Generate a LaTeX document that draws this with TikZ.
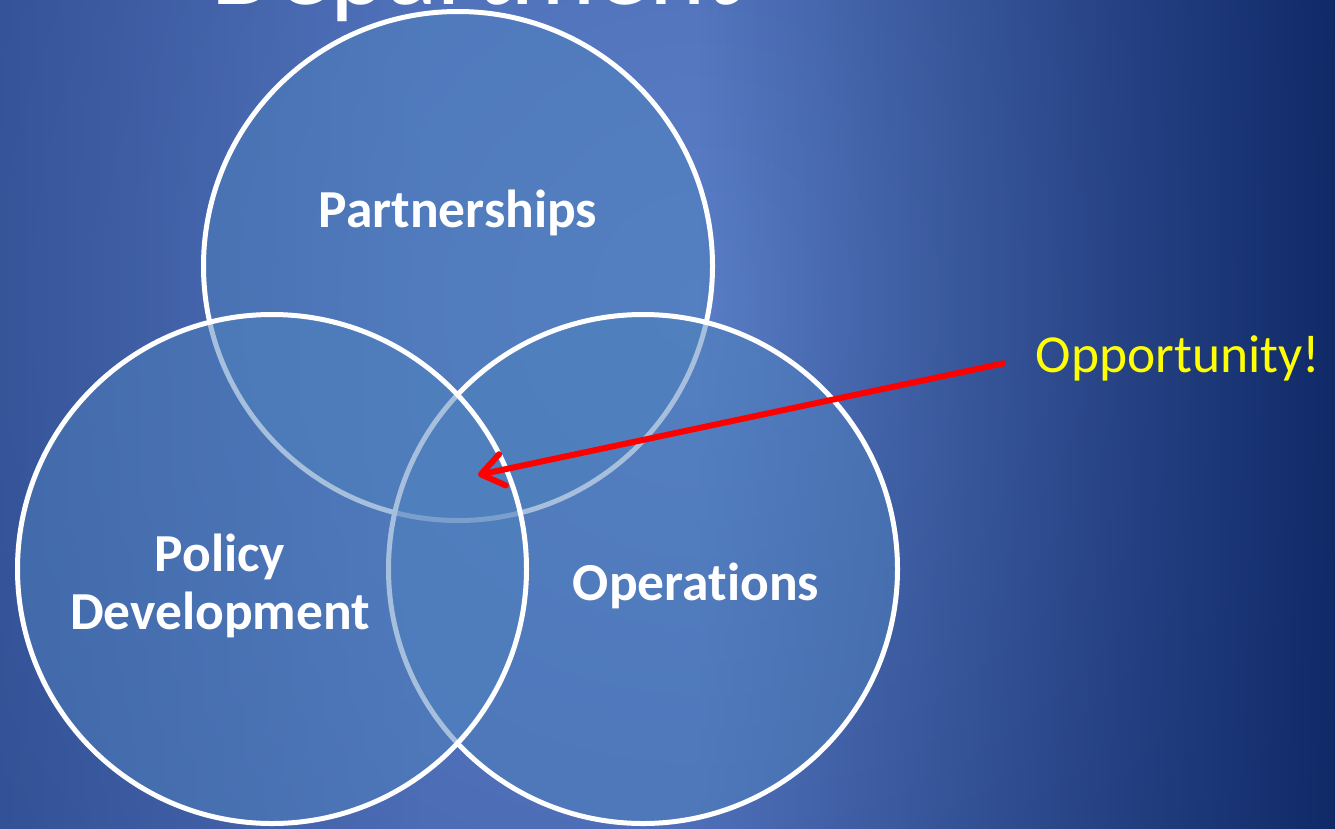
\documentclass[tikz,border=0pt]{standalone}
\usepackage{fontspec}
\setmainfont{Carlito}[Ligatures={NoCommon}]
\usetikzlibrary{arrows.meta,fadings}
\definecolor{bgA}{HTML}{5A7EC6}
\definecolor{bgB}{HTML}{4F70B9}
\definecolor{bgC}{HTML}{4262AA}
\definecolor{bgD}{HTML}{35549D}
\definecolor{bgE}{HTML}{294890}
\definecolor{bgF}{HTML}{1F3D84}
\definecolor{bgDark}{HTML}{0A2360}
\definecolor{accent}{HTML}{4F81BD}
\definecolor{oppyellow}{HTML}{FFFF00}
\definecolor{arrowred}{HTML}{FF0000}
\tikzfading[name=rightdark, left color=transparent!100, right color=transparent!0]
\tikzfading[name=leftdark, left color=transparent!0, right color=transparent!100]
\pgfdeclareradialshading{bgrad}{\pgfpoint{0bp}{0bp}}{color(0bp)=(bgA); color(12bp)=(bgB); color(24bp)=(bgC); color(34bp)=(bgD); color(42bp)=(bgE); color(50bp)=(bgF)}
\tikzset{
  venn/.style={circle, draw=white, line width=5pt, fill=accent, fill opacity=0.5, minimum size=509pt, inner sep=0pt},
  venntext/.style={text=white, font=\fontsize{53.5}{58}\selectfont\bfseries, inner sep=0pt, align=center},
  opptext/.style={text=oppyellow, font=\fontsize{53.5}{60}\selectfont, inner sep=0pt},
  titletext/.style={text=white, font=\fontsize{107}{120}\selectfont, inner sep=0pt},
  redarrow/.style={draw=arrowred, line width=6pt, -{Straight Barb[length=22pt, width=32pt, line cap=round, line join=round]}}
}
\begin{document}
\begin{tikzpicture}[x=1pt, y=-1pt]
\useasboundingbox (0,0) rectangle (1335,828);
\clip (0,0) rectangle (1335,828);
% background
\shade[shading=bgrad] (-300,-700) rectangle (1700,1300);
\fill[color=bgDark, fill opacity=0.9, path fading=rightdark, fit fading=true] (700,-20) rectangle (1340,850);
\fill[color=bgDark, fill opacity=0.3, path fading=leftdark, fit fading=true] (-5,-20) rectangle (420,850);
% title (cut off at the top)
\node[titletext, anchor=base] (title) at (476,4) {Department};
% circles
\node[venn] (part) at (458,266) {};
\node[venn] (oper) at (643,569) {};
\node[venn] (poli) at (272,569) {};
% labels
\node[venntext, anchor=base] (partl) at (458,227) {Partnerships};
\node[venntext, anchor=base] (operl) at (696,600) {Operations};
\node[venntext] (polil) at (220,586) {Policy\\Development};
% opportunity
\node[opptext, anchor=base] (opp) at (1178,372) {Opportunity!};
\coordinate (astart) at (1005,363);
\coordinate (atip) at (478,475);
\draw[redarrow] (astart) -- (atip);
\end{tikzpicture}
\end{document}
